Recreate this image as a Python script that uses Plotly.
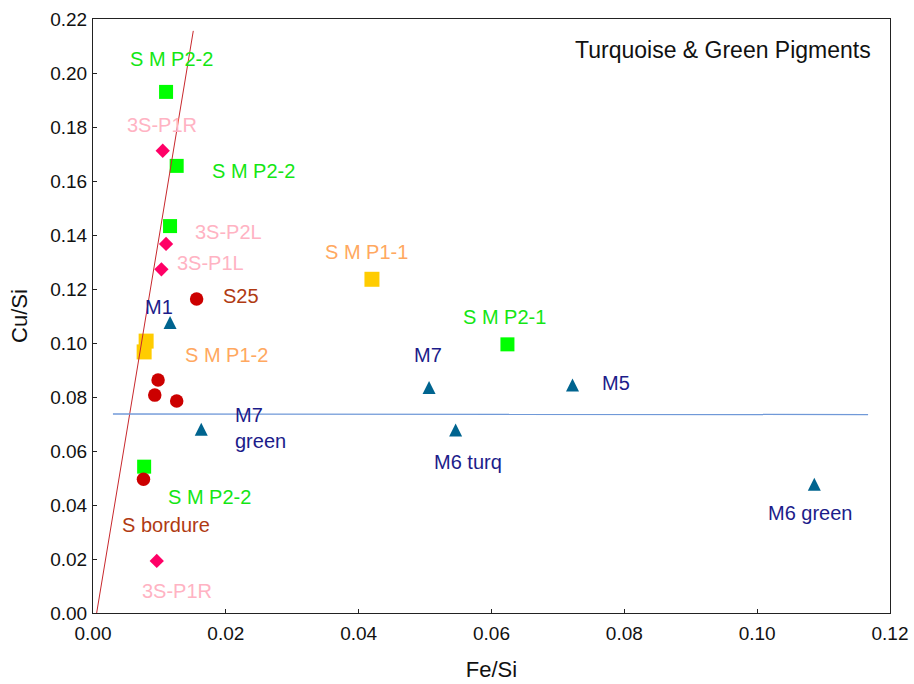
import plotly.graph_objects as go

# Fe/Si vs Cu/Si ratios per pigment sample group
green_sq_x = [0.0110, 0.0126, 0.0116, 0.0077, 0.0624]
green_sq_y = [0.1930, 0.1656, 0.1433, 0.0542, 0.0995]

yellow_sq_x = [0.0080, 0.0077, 0.0420]
yellow_sq_y = [0.1007, 0.0967, 0.1236]

pink_dia_x = [0.0105, 0.0110, 0.0103, 0.0096]
pink_dia_y = [0.1712, 0.1367, 0.1273, 0.0193]

red_circ_x = [0.0156, 0.0098, 0.0093, 0.0126, 0.0076]
red_circ_y = [0.1163, 0.0863, 0.0807, 0.0785, 0.0495]

tri_x = [0.0116, 0.0163, 0.0506, 0.0546, 0.0722, 0.1086]
tri_y = [0.1076, 0.0681, 0.0835, 0.0678, 0.0844, 0.0477]

# reference lines
red_line_x = [0.00055, 0.0151]
red_line_y = [0.0, 0.2156]
blue_line_x = [0.0030, 0.1167]
blue_line_y = [0.0737, 0.0735]

# point labels
label_text = ["S M P2-2", "3S-P1R", "S M P2-2", "3S-P2L", "3S-P1L", "S25", "M1",
              "S M P1-2", "M7<br>green", "S M P2-2", "S bordure", "3S-P1R",
              "S M P1-1", "S M P2-1", "M7", "M5", "M6 turq", "M6 green"]
label_x = [0.01183, 0.01034, 0.02414, 0.02037, 0.01762, 0.02224, 0.00999,
           0.02003, 0.02112, 0.01751, 0.01094, 0.01270,
           0.04125, 0.06200, 0.05040, 0.07880, 0.05650, 0.10810]
label_y = [0.2051, 0.1807, 0.1637, 0.1412, 0.1295, 0.1175, 0.1134,
           0.0956, 0.0685, 0.0428, 0.0326, 0.0083,
           0.1337, 0.1097, 0.0956, 0.0851, 0.0560, 0.0369]
label_group = ["g", "p", "g", "p", "p", "r", "n",
               "o", "n", "g", "r", "p",
               "o", "g", "n", "n", "n", "n"]

group_color = {"g": "#14e614", "p": "#ffb3c3", "r": "#b03a12",
               "n": "#1c1c8a", "o": "#ffa860"}

FONT = "Liberation Sans, Arial, sans-serif"

fig = go.Figure()

fig.add_trace(go.Scatter(x=green_sq_x, y=green_sq_y, mode="markers",
                         marker=dict(symbol="square", size=14, color="#00ff00")))
fig.add_trace(go.Scatter(x=yellow_sq_x, y=yellow_sq_y, mode="markers",
                         marker=dict(symbol="square", size=15, color="#ffcc00")))
fig.add_trace(go.Scatter(x=pink_dia_x, y=pink_dia_y, mode="markers",
                         marker=dict(symbol="diamond", size=11, color="#ff0066")))
fig.add_trace(go.Scatter(x=red_circ_x, y=red_circ_y, mode="markers",
                         marker=dict(symbol="circle", size=13.5, color="#cc0000")))
# upward triangle centred on the point: flipped arrow, pushed back by half its height
fig.add_trace(go.Scatter(x=tri_x, y=tri_y, mode="markers",
                         marker=dict(symbol="arrow-down", angle=180, size=13, standoff=6.5,
                                     color="#00648f", line=dict(width=0))))

fig.add_trace(go.Scatter(x=red_line_x, y=red_line_y, mode="lines",
                         line=dict(color="#c8282d", width=1)))
fig.add_trace(go.Scatter(x=blue_line_x, y=blue_line_y, mode="lines",
                         line=dict(color="#7099d8", width=1.3)))

for t, x, y, g in zip(label_text, label_x, label_y, label_group):
    multi = "<br>" in t
    fig.add_annotation(x=x, y=y, text=t, showarrow=False,
                       xanchor="left" if multi else "center",
                       yanchor="middle", align="left",
                       font=dict(family=FONT, size=20, color=group_color[g]))

fig.add_annotation(xref="paper", yref="paper", x=0.9787, y=0.9478,
                   text="Turquoise & Green Pigments", showarrow=False,
                   xanchor="right", yanchor="middle",
                   font=dict(family=FONT, size=23, color="#111111"))

axis_common = dict(showline=True, linecolor="#222222", linewidth=1, mirror=True,
                   ticks="inside", ticklen=4, tickcolor="#222222",
                   showgrid=False, zeroline=False,
                   tickfont=dict(family=FONT, size=19, color="#111111"),
                   tickformat=".2f")

fig.update_xaxes(range=[0, 0.12], dtick=0.02, tick0=0, ticklabelstandoff=3,
                 title=dict(text="Fe/Si", font=dict(family=FONT, size=22, color="#111111"),
                            standoff=18),
                 **axis_common)
fig.update_yaxes(range=[0, 0.22], dtick=0.02, tick0=0, ticklabelstandoff=1,
                 title=dict(text="Cu/Si", font=dict(family=FONT, size=22, color="#111111"),
                            standoff=16),
                 **axis_common)

fig.update_layout(width=914, height=684, showlegend=False,
                  margin=dict(l=93, r=24, t=19, b=71, autoexpand=False),
                  paper_bgcolor="white", plot_bgcolor="white")

fig.write_html("out.html")
